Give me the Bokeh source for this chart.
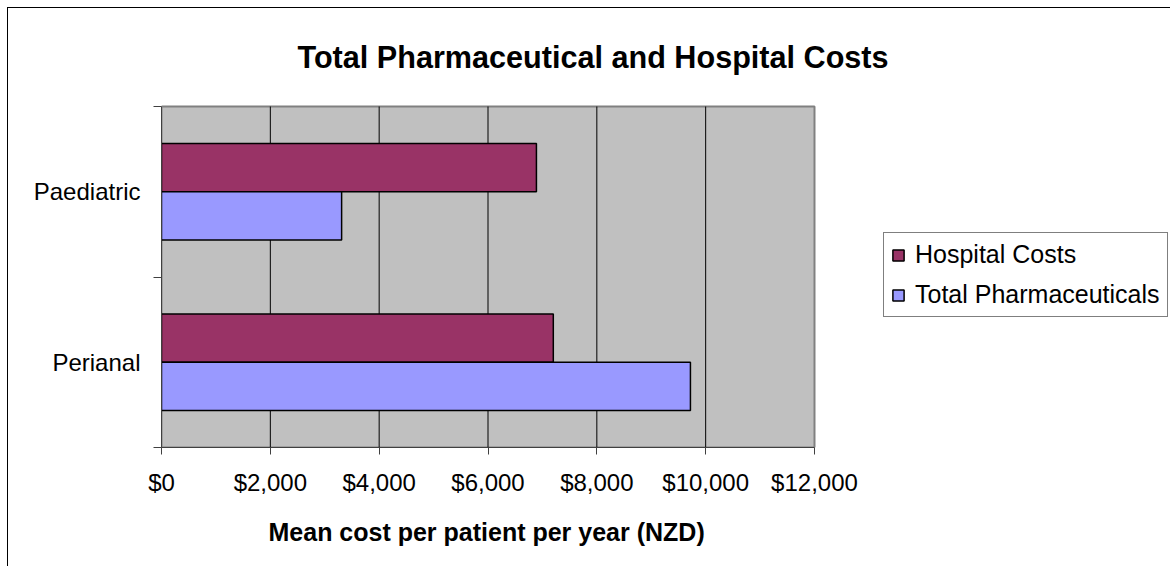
from bokeh.plotting import figure
from bokeh.models import (Range1d, FixedTicker, NumeralTickFormatter, Legend, LegendItem,
                          ColumnDataSource, Label, Title)
from bokeh.embed import file_html
from bokeh.resources import INLINE

# ---- data (categories listed bottom to top, as drawn) ----
categories = ["Perianal", "Paediatric"]
hospital_costs = [7200, 6890]
total_pharmaceuticals = [9720, 3310]
series_names = ["Hospital Costs", "Total Pharmaceuticals"]
x_ticks = [0, 2000, 4000, 6000, 8000, 10000, 12000]
title_text = "Total Pharmaceutical and Hospital Costs"
x_title = "Mean cost per patient per year (NZD)"

# ---- style / layout (pixels) ----
colors = ["#993366", "#9999FF"]
FONT = "Liberation Sans"
W, H = 1170, 566
PA_LEFT, PA_RIGHT, PA_TOP, PA_BOTTOM = 161, 814, 106, 447   # grey plot area
bar_h = 0.283
offset = 0.1415

x_max = x_ticks[-1]
n_cat = len(categories)
px_per_x = (PA_RIGHT - PA_LEFT) / x_max
px_per_y = (PA_BOTTOM - PA_TOP) / n_cat
x_end = (W - PA_LEFT) / px_per_x          # frame reaches the right edge of the canvas
y_end = PA_BOTTOM / px_per_y              # frame reaches the top edge of the canvas


def dx(px):
    return (px - PA_LEFT) / px_per_x


def dy(py):
    return (PA_BOTTOM - py) / px_per_y


centers = [i + 0.5 for i in range(n_cat)]
src_h = ColumnDataSource(dict(y=[c + offset for c in centers], v=hospital_costs))
src_p = ColumnDataSource(dict(y=[c - offset for c in centers], v=total_pharmaceuticals))

p = figure(width=W, height=H, output_backend="svg", toolbar_location=None, title=None,
           x_range=Range1d(0, x_end), y_range=Range1d(0, y_end),
           min_border_left=PA_LEFT, min_border_right=0, min_border_top=0,
           min_border_bottom=H - PA_BOTTOM,
           background_fill_alpha=0, border_fill_color="white", border_fill_alpha=0,
           outline_line_color=None,
           styles={"background-image": "linear-gradient(#000,#000), linear-gradient(#000,#000)",
                   "background-size": "1px 100%, 100% 1px",
                   "background-position": "7px 7px, 7px 7px",
                   "background-repeat": "no-repeat"})

# grey plot area
p.quad(left=0, right=x_max, bottom=0, top=n_cat, fill_color="#C0C0C0",
       line_color="#808080", line_width=2, level="image")

# vertical grid lines (inside the plot area only)
grid_x = x_ticks[1:-1]
p.segment(x0=grid_x, x1=grid_x, y0=[0] * len(grid_x), y1=[n_cat] * len(grid_x),
          line_color="black", line_width=1, level="underlay")
p.xgrid.grid_line_color = None
p.ygrid.grid_line_color = None

# chart title
p.add_layout(Label(x=dx(297), y=dy(56.5), text=title_text, text_font=FONT,
                   text_font_size="30.6px", text_font_style="bold", text_color="black",
                   text_baseline="alphabetic", text_align="left"))

# x axis
p.xaxis.bounds = (0, x_max)
p.xaxis.ticker = FixedTicker(ticks=x_ticks)
p.xaxis.formatter = NumeralTickFormatter(format="$0,0")
p.xaxis.major_tick_out = 7
p.xaxis.major_tick_in = 0
p.xaxis.minor_tick_line_color = None
p.xaxis.axis_line_color = "#404040"
p.xaxis.major_tick_line_color = "#404040"
p.xaxis.major_label_text_font = FONT
p.xaxis.major_label_text_font_size = "24px"
p.xaxis.major_label_text_color = "black"
p.xaxis.major_label_standoff = 14

# x axis title, left-aligned under the plot area
p.add_layout(Title(text=x_title, align="left", offset=268 - PA_LEFT, vertical_align="top",
                   standoff=38, text_font=FONT, text_font_size="25px",
                   text_font_style="bold", text_color="black"), "below")

# y axis (category labels at centres, tick marks at category boundaries)
p.yaxis.bounds = (0, n_cat)
p.yaxis.ticker = FixedTicker(ticks=centers, minor_ticks=list(range(n_cat + 1)))
p.yaxis.major_label_overrides = {c: name for c, name in zip(centers, categories)}
p.yaxis.major_tick_out = 0
p.yaxis.major_tick_in = 0
p.yaxis.minor_tick_out = 8
p.yaxis.minor_tick_in = 0
p.yaxis.minor_tick_line_color = "#404040"
p.yaxis.axis_line_color = "#404040"
p.yaxis.major_label_text_font = FONT
p.yaxis.major_label_text_font_size = "24px"
p.yaxis.major_label_text_color = "black"
p.yaxis.major_label_standoff = 13

# bars
r_h = p.hbar(y="y", right="v", left=0, height=bar_h, source=src_h,
             fill_color=colors[0], line_color="black", line_width=1.5)
r_p = p.hbar(y="y", right="v", left=0, height=bar_h, source=src_p,
             fill_color=colors[1], line_color="black", line_width=1.5)

legend = Legend(items=[LegendItem(label=series_names[0], renderers=[r_h]),
                       LegendItem(label=series_names[1], renderers=[r_p])],
                location=(883 - PA_LEFT, H - 317 - (H - PA_BOTTOM)), orientation="vertical",
                label_text_font=FONT, label_text_font_size="25px", label_text_color="black",
                glyph_width=14, glyph_height=14, label_height=20,
                spacing=11, padding=7, margin=0, label_standoff=10,
                border_line_color="black", border_line_width=1,
                background_fill_color="white", background_fill_alpha=1.0)
p.add_layout(legend)

open("out.html", "w").write(file_html(p, INLINE))
